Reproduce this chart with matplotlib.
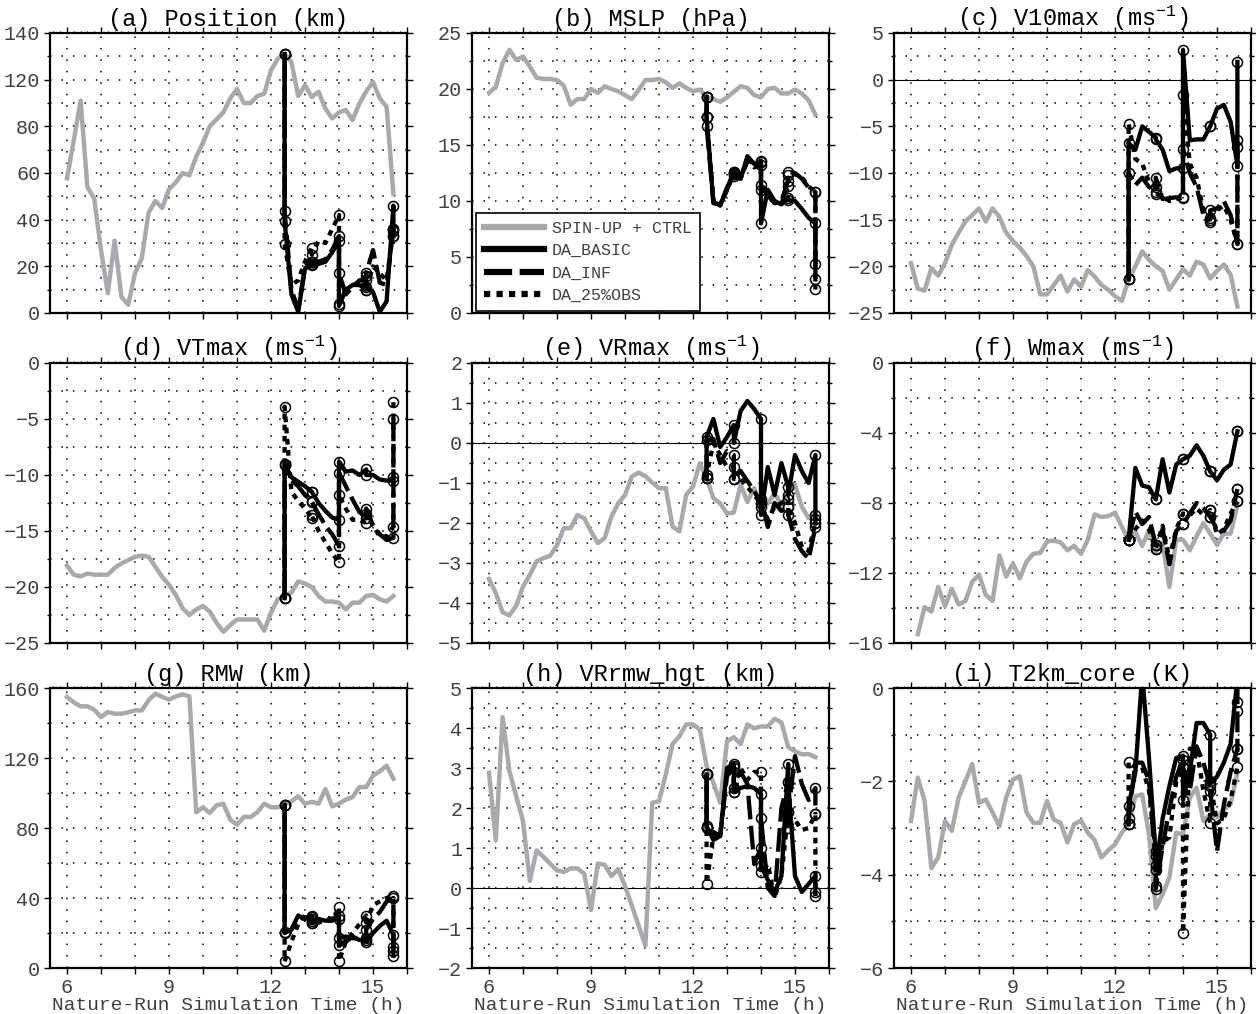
import numpy as np
import matplotlib
matplotlib.use('Agg')
import matplotlib.pyplot as plt
from matplotlib.lines import Line2D
from matplotlib.ticker import MultipleLocator, FixedLocator, FixedFormatter

plt.rcParams['font.family'] = ['Liberation Mono', 'DejaVu Sans Mono']
plt.rcParams['mathtext.fontset'] = 'custom'
plt.rcParams['mathtext.rm'] = 'Liberation Mono'
plt.rcParams['mathtext.it'] = 'Liberation Mono'
plt.rcParams['mathtext.bf'] = 'Liberation Mono'

# spin-up + control run, output every 12 min
t_ctrl = np.round(np.arange(6.0, 15.61, 0.2), 1)

# DA runs: cycle times appear twice (background, then analysis)
t_da = [12.4, 12.4, 12.6, 12.8, 13.0, 13.2, 13.2, 13.4, 13.6, 13.8, 14.0, 14.0,
        14.2, 14.4, 14.6, 14.8, 14.8, 15.0, 15.2, 15.4, 15.6, 15.6]
cycle_idx = [0, 1, 5, 6, 10, 11, 15, 16, 20, 21]

# (a) position error
ctrl_a = [57.7, 74, 91, 54, 49, 27, 8.5, 31, 7, 3.5, 17, 23.5, 43, 48, 45, 53, 56, 60, 59,
          67, 73, 80, 83, 86, 92, 96, 90, 90, 93, 94, 104, 109, 111, 107.6, 93, 97.6, 92.6,
          94.8, 87.6, 83.4, 86, 87, 82.7, 89.8, 95, 99, 92, 88.4, 51]
basic_a = [111, 39.5, 8, 0.5, 19, 20.5, 21, 21, 22, 26, 31, 3, 10, 12, 12, 10, 11, 9, 0.5, 5, 46, 33]
inf_a = [111, 43.7, 10, 1.5, 20, 22, 22, 22, 23, 27, 33, 17, 8, 11, 14, 14, 17, 27, 13, 12, 36, 35]
obs_a = [111, 29.6, 12, 14, 22, 28, 25, 31, 30, 36, 42, 4, 10, 12, 13, 16, 10, 20, 17, 14, 36, 33]

# (b) MSLP error
ctrl_b = [19.65, 20.2, 22.3, 23.5, 22.6, 22.9, 22.0, 21.0, 20.9, 20.9, 20.8, 20.3, 18.6, 19.1,
          19.1, 20.0, 19.65, 20.25, 20.0, 19.8, 19.45, 19.1, 19.9, 20.8, 20.8, 20.9, 20.6,
          20.1, 20.5, 20.1, 19.8, 19.95, 19.3, 19.1, 18.85, 19.25, 19.75, 20.25, 20.1, 19.45,
          19.25, 20.0, 20.1, 19.6, 19.6, 19.95, 19.6, 19.0, 17.7]
basic_b = [19.3, 17.5, 9.8, 9.7, 11.0, 12.6, 12.2, 12.0, 14.0, 13.3, 13.5, 8.0, 11.0, 10.0, 9.7,
           10.3, 10.1, 10.0, 9.3, 8.5, 8.0, 3.0]
inf_b = [19.3, 16.7, 9.9, 9.6, 11.2, 12.5, 12.4, 12.2, 13.5, 13.0, 13.2, 11.4, 10.5, 9.8, 10.0,
         11.8, 12.6, 12.5, 12.0, 11.2, 10.8, 4.4]
obs_b = [19.3, 17.5, 10.0, 9.6, 11.0, 12.4, 12.6, 12.0, 13.6, 13.4, 13.6, 11.0, 10.8, 10.0, 9.8,
         11.3, 12.3, 12.4, 12.1, 11.3, 10.8, 2.1]

# (c) 10-m max wind error
ctrl_c = [-19.65, -22.4, -22.6, -20.2, -21.0, -19.65, -17.7, -16.4, -15.2, -14.5, -13.8, -15.2,
          -13.8, -14.7, -16.4, -17.3, -18.0, -18.9, -20.0, -23.0, -23.0, -22.0, -21.0, -22.7,
          -21.4, -22.2, -20.4, -21.1, -22.0, -22.5, -23.2, -23.7, -21.4, -20.0, -18.4, -19.3,
          -20.0, -20.5, -22.5, -21.4, -20.3, -21.0, -19.5, -19.8, -21.3, -20.5, -19.8, -20.9, -24.3]
basic_c = [-21.4, -6.8, -7.5, -5.0, -5.6, -6.2, -6.4, -7.5, -9.8, -9.5, -9.5, 3.2, -6.5, -6.4,
           -6.4, -5.0, -5.0, -3.1, -2.7, -4.5, -9.2, 1.9]
inf_c = [-21.4, -10.0, -11.3, -10.5, -11.5, -12.0, -10.5, -12.8, -12.7, -12.6, -12.7, -7.4,
         -10.0, -11.5, -14.5, -15.0, -14.0, -13.8, -13.0, -14.5, -17.6, -7.2]
obs_c = [-21.4, -4.7, -8.5, -9.0, -11.0, -11.5, -12.2, -12.5, -13.0, -12.8, -12.6, -1.6, -9.0,
         -10.5, -14.0, -15.3, -14.8, -14.0, -13.5, -15.0, -17.6, -6.5]

# (d) max tangential wind error
ctrl_d = [-18.1, -18.9, -19.05, -18.8, -18.9, -18.9, -18.9, -18.3, -17.9, -17.6, -17.3, -17.2,
          -17.3, -18.2, -19.1, -19.8, -20.7, -21.9, -22.5, -22.0, -21.7, -22.2, -23.2, -24.0,
          -23.4, -22.9, -22.9, -22.9, -22.9, -23.9, -22.3, -21.1, -20.8, -20.5, -19.5, -19.7,
          -20.0, -20.8, -21.3, -21.3, -21.4, -22.0, -21.4, -21.4, -20.8, -20.7, -21.1, -21.3, -20.8]
basic_d = [-21.0, -9.0, -10.2, -10.6, -11.0, -11.5, -11.5, -12.5, -13.2, -13.8, -14.0, -8.8,
           -9.7, -9.6, -10.0, -9.5, -10.0, -10.0, -10.4, -10.5, -10.5, -10.2]
inf_d = [-21.0, -9.1, -10.5, -11.0, -11.8, -12.3, -12.4, -13.5, -14.5, -15.3, -16.3, -9.8,
         -11.0, -12.2, -13.3, -13.8, -13.0, -14.5, -15.3, -15.8, -15.6, -3.5]
obs_d = [-21.0, -3.9, -11.5, -12.3, -13.0, -13.8, -13.6, -15.0, -16.0, -17.0, -17.8, -11.8,
         -13.0, -14.0, -14.0, -14.3, -13.5, -14.5, -15.5, -15.5, -14.6, -5.0]

# (e) max radial wind error
ctrl_e = [-3.40, -3.75, -4.23, -4.31, -4.07, -3.59, -3.30, -2.96, -2.88, -2.82, -2.55, -2.13,
          -2.13, -1.80, -1.88, -2.21, -2.50, -2.38, -1.84, -1.51, -1.30, -0.84, -0.74, -0.83,
          -0.99, -1.13, -1.13, -2.09, -2.21, -1.30, -1.09, -0.51, -0.88, -1.38, -1.51, -1.76,
          -1.74, -1.05, -1.47, -1.13, -1.67, -1.51, -1.26, -1.55, -1.22, -1.05, -1.59, -1.88, -1.72]
basic_e = [-0.88, 0.15, 0.6, -0.1, 0.15, 0.45, 0.0, 0.8, 1.05, 0.85, 0.6, -1.8, -0.6, -1.3,
           -0.5, -1.1, -1.3, -0.3, -0.7, -1.0, -0.3, -1.9]
inf_e = [-0.88, 0.07, 0.1, -0.5, -0.2, -0.3, -0.9, -0.7, -0.95, -1.2, -1.5, -1.4, -2.1, -1.5,
         -1.7, -1.6, -1.8, -2.4, -2.7, -2.9, -2.1, -1.8]
obs_e = [-0.88, -0.8, 0.0, -0.3, -0.6, -0.6, -0.9, -0.9, -1.1, -1.3, -1.5, -1.6, -1.9, -1.6,
         -1.5, -1.4, -1.6, -2.0, -2.6, -2.7, -2.0, -2.0]

# (f) max vertical velocity error (no output at 6.0 h)
ctrl_f = [np.nan, -15.5, -13.95, -14.2, -12.8, -13.9, -12.9, -13.8, -13.6, -12.5, -12.1, -13.25,
          -13.6, -11.0, -12.2, -11.45, -12.3, -11.35, -10.9, -10.85, -10.2, -10.15, -10.25,
          -10.7, -10.45, -10.9, -10.1, -8.65, -8.8, -8.75, -8.55, -9.35, -10.1, -9.65, -10.45,
          -9.55, -10.8, -10.3, -12.8, -10.1, -10.1, -10.7, -9.9, -9.15, -9.75, -10.4, -9.75,
          -9.75, -8.1]
basic_f = [-10.1, -10.1, -6.0, -7.0, -7.1, -7.8, -7.8, -5.5, -7.4, -5.8, -5.5, -5.5, -5.3,
           -4.7, -5.3, -6.2, -6.2, -6.7, -6.1, -5.8, -3.9, -3.9]
inf_f = [-10.1, -10.1, -8.5, -9.2, -8.8, -10.4, -10.4, -9.5, -11.5, -9.6, -9.2, -9.2, -8.6,
         -8.0, -8.3, -8.8, -8.8, -9.5, -9.6, -9.0, -7.2, -7.2]
obs_f = [-10.1, -10.1, -9.5, -9.0, -9.5, -10.6, -10.6, -9.3, -11.2, -9.5, -8.6, -8.6, -8.7,
         -8.3, -8.7, -8.4, -8.4, -9.8, -9.5, -8.6, -7.9, -7.9]

# (g) radius of max wind error
ctrl_g = [154.9, 151.8, 149.5, 149.5, 147.6, 143.4, 146.3, 145.3, 145.3, 146.1, 147.2, 147.2,
          153.0, 156.8, 154.9, 153.3, 155.2, 156.4, 155.2, 89.0, 91.8, 88.6, 93.0, 93.9, 84.8,
          81.9, 86.3, 86.3, 89.0, 93.9, 91.8, 91.8, 93.3, 95.2, 98.1, 93.9, 94.9, 93.9, 102.3,
          92.4, 93.9, 96.2, 97.7, 103.4, 103.4, 109.9, 112.4, 115.6, 108.2]
basic_g = [93.3, 20.4, 22, 30, 28, 30, 26, 28, 27, 28, 28, 13, 15, 18, 16, 16, 15, 20, 24, 27, 19, 7]
inf_g = [93.3, 20, 22, 28, 29, 28, 27, 27, 29, 28, 30, 17, 18, 17, 17, 17, 22, 28, 32, 38, 40, 10]
obs_g = [93.3, 3.8, 15, 25, 30, 29, 26, 26, 27, 27, 35, 4, 15, 20, 25, 30, 26, 36, 38, 40, 41, 12]

# (h) height of max radial wind error
ctrl_h = [2.88, 1.19, 4.27, 2.92, 2.30, 1.67, 0.18, 0.94, 0.78, 0.61, 0.44, 0.40, 0.49, 0.49,
          0.36, -0.55, 0.61, 0.58, 0.30, 0.47, 0.05, -0.44, -0.94, -1.44, 2.13, 2.17, 2.84,
          3.60, 3.79, 4.09, 4.09, 3.96, 3.05, 2.63, 2.13, 3.67, 3.77, 3.60, 4.09, 3.99, 4.04,
          4.04, 4.23, 4.14, 3.52, 3.42, 3.34, 3.35, 3.27]
basic_h = [2.84, 1.55, 1.2, 1.3, 3.0, 3.1, 2.4, 2.5, 2.55, 2.5, 2.35, 0.55, 0.2, -0.1, 0.3,
           3.1, 2.65, 0.3, -0.1, 0.1, 0.3, -0.11]
inf_h = [2.84, 1.5, 1.4, 1.3, 2.8, 3.0, 2.4, 2.9, 2.6, 0.6, 1.0, 1.75, 0.0, -0.2, 2.0, 2.65,
         1.9, 3.3, 2.6, 2.2, 2.5, 1.84]
obs_h = [2.84, 0.11, 1.3, 1.35, 2.9, 3.05, 2.5, 3.0, 2.7, 2.9, 2.9, 0.4, 0.6, -0.25, 0.3, 1.9,
         1.5, 1.7, 1.45, 1.5, 1.84, -0.2]

# (i) 2-km core temperature error
ctrl_i = [-2.85, -1.92, -2.42, -3.86, -3.63, -2.85, -3.06, -2.35, -2.0, -1.63, -2.46, -2.39,
          -2.67, -2.96, -2.34, -1.96, -1.89, -2.67, -2.89, -2.89, -2.42, -2.82, -2.89, -3.31,
          -2.92, -2.84, -3.10, -3.26, -3.63, -3.48, -3.35, -3.10, -2.92, -2.32, -2.28, -3.14,
          -4.72, -4.42, -4.06, -3.10, -3.14, -2.35, -2.14, -2.85, -2.71, -2.77, -2.60, -2.49, -1.82]
basic_i = [-2.92, -2.53, -1.8, 0.3, -1.5, -3.6, -3.9, -2.8, -2.1, -1.5, -1.45, -2.4, -1.8,
           -0.75, -0.75, -1.0, -2.05, -1.9, -1.6, -1.2, 0.2, -0.3]
inf_i = [-2.92, -2.78, -1.6, -1.6, -2.0, -3.8, -4.3, -3.4, -2.6, -1.9, -1.55, -1.7, -2.2,
         -1.25, -1.6, -2.1, -2.2, -3.5, -2.5, -1.8, -1.3, -0.5]
obs_i = [-2.92, -1.58, -1.7, -1.7, -2.2, -3.5, -4.25, -3.3, -3.2, -2.0, -1.7, -5.25, -1.3,
         -1.3, -2.2, -2.9, -2.0, -2.9, -2.8, -2.4, -1.7, -1.3]

titles = ['(a) Position (km)', '(b) MSLP (hPa)', r'(c) V10max (ms$^{-1}$)',
          r'(d) VTmax (ms$^{-1}$)', r'(e) VRmax (ms$^{-1}$)', r'(f) Wmax (ms$^{-1}$)',
          '(g) RMW (km)', '(h) VRrmw_hgt (km)', '(i) T2km_core (K)']
ctrl_all = [ctrl_a, ctrl_b, ctrl_c, ctrl_d, ctrl_e, ctrl_f, ctrl_g, ctrl_h, ctrl_i]
basic_all = [basic_a, basic_b, basic_c, basic_d, basic_e, basic_f, basic_g, basic_h, basic_i]
inf_all = [inf_a, inf_b, inf_c, inf_d, inf_e, inf_f, inf_g, inf_h, inf_i]
obs_all = [obs_a, obs_b, obs_c, obs_d, obs_e, obs_f, obs_g, obs_h, obs_i]
ylims = [(0, 120), (0, 25), (-25, 5), (-25, 0), (-5, 2), (-16, 0), (0, 160), (-2, 5), (-6, 0)]
ysteps = [20, 5, 5, 5, 1, 4, 40, 1, 2]
yticks_a = ['0', '20', '40', '60', '80', '120', '140']
zero_line = [False, False, True, False, True, False, False, True, False]
xtick_labels = {6: '6', 9: '9', 12: '12', 15: '15'}

GRAY = '#a7a9ac'
TXT = '#404040'
grid_kw = dict(color='k', linestyle=(0, (1, 6.5)), linewidth=1.1)

fig = plt.figure(figsize=(12.56, 10.14), dpi=100)
W, H = 1256., 1014.
lefts = [50, 472, 894]
tops = [33, 363, 688]
aw, ah = 357, 280

da_styles = [dict(ls=(0, (1.3, 1.3)), dash_capstyle='butt'),
             dict(ls=(0, (5.5, 1.5)), dash_capstyle='butt'),
             dict(ls='-')]

for k in range(9):
    r, c = divmod(k, 3)
    ax = fig.add_axes([lefts[c] / W, 1 - (tops[r] + ah) / H, aw / W, ah / H])
    lo, hi = ylims[k]
    step = ysteps[k]

    ax.plot(t_ctrl, ctrl_all[k], color=GRAY, lw=3.2, zorder=3)
    for series, st in zip([obs_all[k], inf_all[k], basic_all[k]], da_styles):
        ax.plot(t_da, series, color='k', lw=3.1, marker='o', ms=7.2, mfc='none',
                mec='k', mew=1.1, markevery=cycle_idx, zorder=4, **st)

    if zero_line[k]:
        ax.axhline(0, color='k', lw=0.8, zorder=2)

    ax.set_xlim(5.5, 16)
    ax.set_ylim(lo, hi)
    hours = np.arange(6, 17)
    ax.xaxis.set_major_locator(FixedLocator(hours))
    if r == 2:
        ax.xaxis.set_major_formatter(FixedFormatter([xtick_labels.get(h, '') for h in hours]))
    else:
        ax.xaxis.set_major_formatter(FixedFormatter([''] * len(hours)))
    ax.xaxis.set_minor_locator(MultipleLocator(0.2))

    yt = np.arange(lo, hi + step / 2, step)
    ax.yaxis.set_major_locator(FixedLocator(yt))
    if k == 0:
        ax.yaxis.set_major_formatter(FixedFormatter(yticks_a))
    else:
        ax.yaxis.set_major_formatter(FixedFormatter(['%g' % v if v >= 0 else '\u2212%g' % -v
                                                     for v in yt]))
    ax.yaxis.set_minor_locator(MultipleLocator(step / 2))

    ax.grid(True, which='major', axis='x', **grid_kw)
    ax.grid(True, which='both', axis='y', **grid_kw)
    ax.set_axisbelow(True)

    ax.tick_params(which='major', direction='out', length=4, width=1.0, top=True, right=True,
                   labelsize=14.5, labelcolor=TXT, pad=3)
    ax.tick_params(axis='y', which='minor', direction='out', length=2.5, width=1.0,
                   left=True, right=True)
    ax.tick_params(axis='x', which='minor', direction='out', length=1.5, width=0.8,
                   top=True, bottom=False)
    for sp in ax.spines.values():
        sp.set_linewidth(1.6)

    ax.set_title(titles[k], fontsize=17, pad=5)
    if r == 2:
        ax.set_xlabel('Nature-Run Simulation Time (h)', fontsize=14, labelpad=0, color=TXT)

    if k == 1:
        handles = [Line2D([], [], color=GRAY, lw=4.5),
                   Line2D([], [], color='k', lw=4.5),
                   Line2D([], [], color='k', lw=4.5, ls=(0, (4.5, 1.2)), dash_capstyle='butt'),
                   Line2D([], [], color='k', lw=4.5, ls=(0, (1, 1)), dash_capstyle='butt')]
        leg = ax.legend(handles, ['SPIN-UP + CTRL', 'DA_BASIC', 'DA_INF', 'DA_25%OBS'],
                        loc='lower left', bbox_to_anchor=(0.012, 0.008), fontsize=12,
                        handlelength=3.6, handletextpad=0.5, borderpad=0.45,
                        labelspacing=0.45, fancybox=False, framealpha=1,
                        edgecolor='k', borderaxespad=0)
        leg.get_frame().set_linewidth(1.2)
        for txt in leg.get_texts():
            txt.set_color(TXT)
        leg.set_zorder(10)

fig.savefig('out.png', dpi=100)
